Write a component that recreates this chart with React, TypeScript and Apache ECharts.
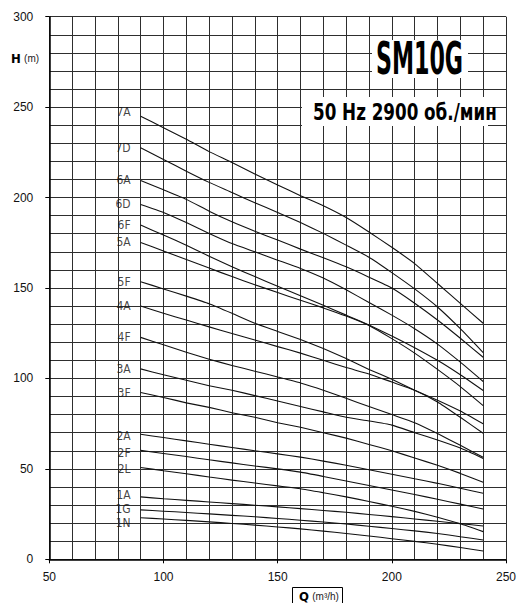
import React, { useEffect, useRef } from "react";
import * as echarts from "echarts";

// Flow rate Q (m3/h) sample points shared by all curves
const flows = [90, 100, 110, 120, 130, 140, 150, 160, 170, 180, 190, 200, 210, 220, 230, 240];

// Head H (m) for each pump model
const h7A = [245, 238.6, 232.2, 225.4, 219.4, 213, 207, 201, 195.5, 189, 181, 172.5, 163.5, 152.5, 141.5, 130.5];
const h7D = [227.6, 221.1, 214.6, 208.4, 202.8, 197.1, 191.8, 186.2, 180.2, 173.7, 167, 158.5, 149.5, 139.5, 127.5, 114.3];
const h6A = [209.5, 204.3, 199, 192.5, 186.6, 181.4, 176.5, 171.5, 166.7, 161.7, 156, 150, 141.6, 132.3, 122.2, 111.7];
const h6D = [196.2, 191.8, 186.2, 180.2, 174.6, 170, 165.4, 160.8, 155.5, 149, 142, 135, 127.5, 119, 109, 98.3];
const h6F = [184.8, 179.3, 173.7, 167.6, 161.8, 156.3, 151, 145.7, 140.4, 135, 129.5, 123.5, 117, 110, 102, 93.3];
const h5A = [175.2, 170.5, 165.7, 161, 156.3, 151.8, 147.5, 143.2, 139, 134.5, 129.3, 122, 114, 105, 95.5, 85];
const h5F = [153.5, 149.5, 145.5, 141.3, 136, 130.5, 126, 121.5, 116.5, 111, 105, 99.5, 93.5, 88, 82, 74.9];
const h4A = [140, 136, 132.3, 128.5, 124.8, 121.2, 117.6, 114, 110, 106, 102.5, 98, 93.5, 87, 78.5, 69.7];
const h4F = [122.7, 118.6, 114.5, 110.6, 107.2, 104, 100.8, 97.5, 93.5, 89, 84.5, 80, 75.5, 69.5, 63, 56.4];
const h3A = [105.3, 102, 99, 96, 93.5, 90.5, 87.5, 84.5, 81.5, 78.5, 76.5, 74.2, 70, 66, 61.5, 55.8];
const h3F = [92.2, 89.5, 86.5, 84, 81, 78.5, 75.5, 73, 70, 67, 63.5, 60, 56, 52, 47.5, 42.6];
const h2A = [69.1, 67.3, 65.5, 63.6, 61.8, 60, 58.3, 56.5, 54.3, 52, 49.5, 47, 44.5, 42, 39.3, 36.5];
const h2F = [60.2, 58.5, 56.8, 55, 53.3, 51.6, 50, 48.2, 45.8, 43.3, 40.8, 38.3, 35.8, 33.2, 30.5, 27.8];
const h2L = [50.8, 49, 47.3, 45.5, 43.8, 42.2, 40.6, 39, 36.8, 34.5, 32, 29.3, 26.5, 23.3, 19.6, 15.3];
const h1A = [34.5, 33.5, 32.6, 31.7, 30.8, 29.9, 29, 28, 27, 26, 24.8, 23.6, 22.3, 21, 19.7, 18.4];
const h1G = [27.3, 26.6, 25.9, 25.1, 24.3, 23.5, 22.6, 21.6, 20.6, 19.5, 18.3, 17, 15.7, 14.3, 12.5, 10.7];
const h1N = [23, 22.3, 21.5, 20.7, 19.8, 18.9, 17.9, 16.8, 15.6, 14.3, 12.9, 11.4, 9.9, 8.3, 6.5, 4.6];

const curveNames = ["7A", "7D", "6A", "6D", "6F", "5A", "5F", "4A", "4F", "3A", "3F", "2A", "2F", "2L", "1A", "1G", "1N"];
const curveValues = [h7A, h7D, h6A, h6D, h6F, h5A, h5F, h4A, h4F, h3A, h3F, h2A, h2F, h2L, h1A, h1G, h1N];

// small vertical nudges of the curve name labels (px)
const labelNudge: Record<string, number> = { "7A": -4, "2A": 2, "2F": 3, "2L": 2, "1A": -2, "1G": -1, "1N": 5 };

const xTicks = [50, 100, 150, 200, 250];
const yTicks = [0, 50, 100, 150, 200, 250, 300];

const NARROW = '"Liberation Sans Narrow", "Arial Narrow", "DejaVu Sans Condensed", sans-serif';
const SANS = '"Liberation Sans", Arial, sans-serif';

export default function App() {
  const ref = useRef<HTMLDivElement>(null);
  useEffect(() => {
    document.body.style.margin = "0";
    if (!ref.current) return;
    const chart = echarts.init(ref.current, undefined, { renderer: "svg" });
    const gridColor = "#2e2e2e";
    const lineSeries = curveNames.map((name, k) => ({
      type: "line",
      name,
      data: curveValues[k].map((v, i) => [flows[i], v]),
      symbol: "none",
      smooth: 0.15,
      silent: true,
      lineStyle: { color: "#111", width: 1.1 },
      z: 3,
    }));
    const labelSeries = {
      type: "scatter",
      symbolSize: 2,
      itemStyle: { color: "rgba(0,0,0,0)" },
      silent: true,
      z: 4,
      data: curveNames.map((name, k) => ({
        value: [flows[0], curveValues[k][0]],
        label: {
          show: true,
          position: "left",
          distance: 9,
          formatter: name,
          offset: [0, labelNudge[name] || 0],
          fontFamily: NARROW,
          fontSize: 12,
          color: "#111",
        },
      })),
    };
    chart.setOption({
      animation: false,
      grid: { left: 49.3, right: 9.7, top: 16.7, bottom: 43.7, containLabel: false },
      xAxis: {
        type: "value",
        min: xTicks[0],
        max: xTicks[xTicks.length - 1],
        interval: 50,
        axisLine: { show: true, lineStyle: { color: "#000", width: 1.5 } },
        axisTick: { show: true, length: 4, inside: false, lineStyle: { color: "#000" } },
        axisLabel: { fontFamily: SANS, fontSize: 12, color: "#111", margin: 12 },
        splitLine: { show: true, lineStyle: { color: gridColor, width: 1 } },
        minorTick: { show: false, splitNumber: 5 },
        minorSplitLine: { show: true, lineStyle: { color: gridColor, width: 1 } },
      },
      yAxis: {
        type: "value",
        min: yTicks[0],
        max: yTicks[yTicks.length - 1],
        interval: 50,
        axisLine: { show: true, lineStyle: { color: "#000", width: 1.5 } },
        axisTick: { show: true, length: 4, inside: false, lineStyle: { color: "#000" } },
        axisLabel: { fontFamily: SANS, fontSize: 12, color: "#111", margin: 16 },
        splitLine: { show: true, lineStyle: { color: gridColor, width: 1 } },
        minorTick: { show: false, splitNumber: 5 },
        minorSplitLine: { show: true, lineStyle: { color: gridColor, width: 1 } },
      },
      graphic: [
        { type: "rect", shape: { x: 372, y: 40, width: 96, height: 38 }, style: { fill: "#fff" }, z: 100 },
        {
          type: "text",
          x: 376,
          y: 59,
          scaleX: 0.56,
          style: {
            text: "SM10G",
            font: 'bold 44px ' + NARROW,
            fill: "#000",
            textAlign: "left",
            textVerticalAlign: "middle",
          },
          z: 101,
        },
        { type: "rect", shape: { x: 302, y: 97, width: 186, height: 29 }, style: { fill: "#fff" }, z: 100 },
        {
          type: "text",
          x: 313,
          y: 112,
          scaleX: 0.81,
          style: {
            text: "50 Hz 2900 об./мин",
            font: 'bold 23px ' + NARROW,
            fill: "#000",
            textAlign: "left",
            textVerticalAlign: "middle",
          },
          z: 101,
        },
        {
          type: "text",
          x: 11,
          y: 58,
          style: {
            text: "{h|H} {m|(m)}",
            rich: {
              h: { font: 'bold 13px ' + NARROW, fill: "#000" },
              m: { font: '10px ' + SANS, fill: "#222" },
            },
            textAlign: "left",
            textVerticalAlign: "middle",
          },
          z: 101,
        },
        {
          type: "rect",
          shape: { x: 292.5, y: 587.5, width: 50, height: 18 },
          style: { fill: "#fff", stroke: "#000", lineWidth: 1 },
          z: 100,
        },
        {
          type: "text",
          x: 299,
          y: 596,
          style: {
            text: "{q|Q} {m|(m³/h)}",
            rich: {
              q: { font: 'bold 13px ' + NARROW, fill: "#000" },
              m: { font: '10px ' + SANS, fill: "#222" },
            },
            textAlign: "left",
            textVerticalAlign: "middle",
          },
          z: 101,
        },
      ],
      series: [...lineSeries, labelSeries],
    });
    return () => chart.dispose();
  }, []);
  return <div ref={ref} style={{ width: 519, height: 603 }} />;
}
